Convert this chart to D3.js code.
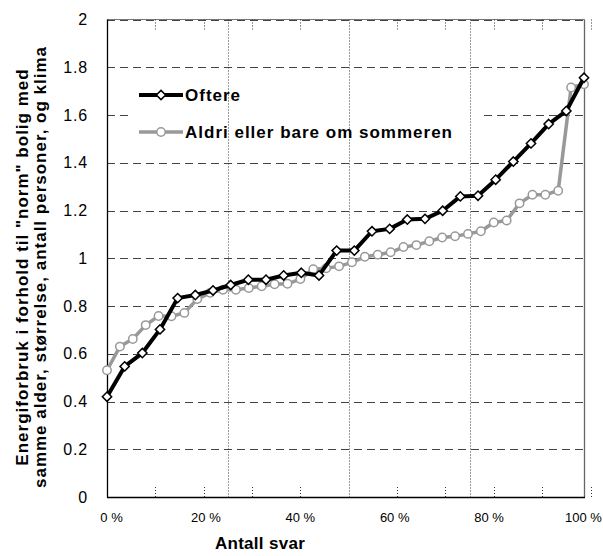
<!DOCTYPE html>
<html>
<head>
<meta charset="utf-8">
<script src="https://cdn.jsdelivr.net/npm/d3@7"></script>
<style>
  html, body { margin: 0; padding: 0; background: #fff; }
  svg { display: block; font-family: Arial, "Liberation Sans", sans-serif; }
</style>
</head>
<body>
<svg id="chart" width="603" height="556"></svg>
<script>
// ---- data ----
const xTickLabels = ["0 %", "20 %", "40 %", "60 %", "80 %", "100 %"];
const xTickValues = [0, 20, 40, 60, 80, 100];
const yTickValues = [0, 0.2, 0.4, 0.6, 0.8, 1, 1.2, 1.4, 1.6, 1.8, 2];
const yTickLabels = ["0", "0.2", "0.4", "0.6", "0.8", "1", "1.2", "1.4", "1.6", "1.8", "2"];
const minorTickValues = [10, 20, 30, 40, 60, 70, 80, 90, 100];
const quartileLines = [25, 50, 75];

const seriesNames = ["Oftere", "Aldri eller bare om sommeren"];
const oftere = [0.42, 0.547, 0.603, 0.702, 0.833, 0.846, 0.865, 0.888, 0.91, 0.91,
  0.928, 0.939, 0.928, 1.032, 1.032, 1.113, 1.123, 1.162, 1.165, 1.199,
  1.259, 1.262, 1.329, 1.405, 1.481, 1.562, 1.617, 1.756];
const aldri = [0.531, 0.63, 0.662, 0.72, 0.758, 0.757, 0.771, 0.829, 0.855, 0.868,
  0.868, 0.875, 0.883, 0.891, 0.893, 0.913, 0.954, 0.958, 0.966, 0.983,
  1.006, 1.015, 1.025, 1.047, 1.055, 1.071, 1.087, 1.092, 1.102, 1.113,
  1.15, 1.158, 1.23, 1.266, 1.266, 1.283, 1.715, 1.729];

const yTitle1 = "Energiforbruk i forhold til \"norm\" bolig med";
const yTitle2 = "samme alder, størrelse, antall personer, og klima";
const xTitle = "Antall svar";

// ---- layout ----
const L = 107, R = 584, T = 19.5, B = 497;
const svg = d3.select("#chart");

const y = d3.scaleLinear().domain([0, 2]).range([B, T]);
const xLabel = d3.scaleLinear().domain([0, 100]).range([111.5, 583.5]);
const xGrid = d3.scaleLinear().domain([0, 100]).range([L, 590.5]);
const xO = d3.scalePoint().domain(d3.range(oftere.length)).range([L, R]);
const xA = d3.scalePoint().domain(d3.range(aldri.length)).range([L, R]);

// horizontal dashed gridlines
svg.append("g").selectAll("line").data(yTickValues.filter(v => v > 0)).join("line")
  .attr("x1", L).attr("x2", R)
  .attr("y1", d => Math.round(y(d)) + 0.5).attr("y2", d => Math.round(y(d)) + 0.5)
  .attr("stroke", "#444").attr("stroke-width", 1).attr("stroke-dasharray", "8,5");

// legend box (white, hides gridlines)
svg.append("rect").attr("x", 132).attr("y", 76).attr("width", 351).attr("height", 76)
  .attr("fill", "#fff");

// frame
svg.append("line").attr("x1", L).attr("x2", R + 0.5).attr("y1", 19.5).attr("y2", 19.5)
  .attr("stroke", "#777").attr("stroke-width", 1);
svg.append("line").attr("x1", R + 0.5).attr("x2", R + 0.5).attr("y1", 19.5).attr("y2", B)
  .attr("stroke", "#666").attr("stroke-width", 1.3);

// quartile dotted vertical lines
svg.append("g").selectAll("line").data(quartileLines).join("line")
  .attr("x1", d => Math.round(xGrid(d)) + 0.5).attr("x2", d => Math.round(xGrid(d)) + 0.5)
  .attr("y1", T).attr("y2", B)
  .attr("stroke", "#333").attr("stroke-width", 1).attr("stroke-dasharray", "1,2");

// minor dotted ticks top and bottom
const mt = svg.append("g");
mt.selectAll("line.b").data(minorTickValues).join("line").attr("class", "b")
  .attr("x1", d => Math.round(xGrid(d)) + 0.5).attr("x2", d => Math.round(xGrid(d)) + 0.5)
  .attr("y1", B - 10).attr("y2", B)
  .attr("stroke", "#333").attr("stroke-width", 1).attr("stroke-dasharray", "1,2");
mt.selectAll("line.t").data(minorTickValues).join("line").attr("class", "t")
  .attr("x1", d => Math.round(xGrid(d)) + 0.5).attr("x2", d => Math.round(xGrid(d)) + 0.5)
  .attr("y1", T).attr("y2", T + 10)
  .attr("stroke", "#333").attr("stroke-width", 1).attr("stroke-dasharray", "1,2");

// axes lines
svg.append("line").attr("x1", L + 0.5).attr("x2", L + 0.5).attr("y1", T).attr("y2", B + 0.5)
  .attr("stroke", "#000").attr("stroke-width", 1.3);
svg.append("line").attr("x1", L).attr("x2", R + 1).attr("y1", B + 0.5).attr("y2", B + 0.5)
  .attr("stroke", "#000").attr("stroke-width", 1.3);

// y tick labels
svg.append("g").selectAll("text").data(yTickValues).join("text")
  .attr("x", 88).attr("y", d => y(d)).attr("dy", "0.35em")
  .attr("text-anchor", "end").attr("font-size", 16).attr("letter-spacing", "0.8px")
  .text((d, i) => yTickLabels[i]);

// x tick labels
svg.append("g").selectAll("text").data(xTickValues).join("text")
  .attr("x", d => xLabel(d)).attr("y", 522)
  .attr("text-anchor", "middle").attr("font-size", 13)
  .text((d, i) => xTickLabels[i]);

// titles
svg.append("text").attr("x", 260).attr("y", 549).attr("text-anchor", "middle")
  .attr("font-size", 17).attr("font-weight", "bold").attr("letter-spacing", "0.3px").text(xTitle);
svg.append("text").attr("transform", "translate(28,267) rotate(-90)").attr("text-anchor", "middle")
  .attr("font-size", 17).attr("font-weight", "bold").attr("letter-spacing", "1px").text(yTitle1);
svg.append("text").attr("transform", "translate(46,267) rotate(-90)").attr("text-anchor", "middle")
  .attr("font-size", 17).attr("font-weight", "bold").attr("letter-spacing", "1px").text(yTitle2);

// series
const diamond = d3.symbol().type(d3.symbolDiamond2).size(55);
function drawSeries(values, xs, color, width, marker) {
  const g = svg.append("g");
  g.append("path").datum(values)
    .attr("d", d3.line().x((d, i) => xs(i)).y(d => y(d)))
    .attr("fill", "none").attr("stroke", color).attr("stroke-width", width)
    .attr("stroke-linejoin", "round");
  if (marker === "diamond") {
    g.selectAll("path.m").data(values).join("path").attr("class", "m")
      .attr("d", diamond)
      .attr("transform", (d, i) => `translate(${xs(i)},${y(d)})`)
      .attr("fill", "#fff").attr("stroke", color).attr("stroke-width", 1.5);
  } else {
    g.selectAll("circle").data(values).join("circle")
      .attr("cx", (d, i) => xs(i)).attr("cy", d => y(d)).attr("r", 4.2)
      .attr("fill", "#fff").attr("stroke", color).attr("stroke-width", 1.5);
  }
}
drawSeries(aldri, xA, "#999", 3.5, "circle");
drawSeries(oftere, xO, "#000", 4, "diamond");

// legend
const leg = svg.append("g");
const legendItems = [
  { name: seriesNames[0], color: "#000", w: 4, marker: "diamond", y: 95 },
  { name: seriesNames[1], color: "#999", w: 3.5, marker: "circle", y: 132 }
];
legendItems.forEach(it => {
  leg.append("line").attr("x1", 139).attr("x2", 183).attr("y1", it.y).attr("y2", it.y)
    .attr("stroke", it.color).attr("stroke-width", it.w);
  if (it.marker === "diamond") {
    leg.append("path").attr("d", diamond).attr("transform", `translate(161,${it.y})`)
      .attr("fill", "#fff").attr("stroke", it.color).attr("stroke-width", 1.5);
  } else {
    leg.append("circle").attr("cx", 161).attr("cy", it.y).attr("r", 4.2)
      .attr("fill", "#fff").attr("stroke", it.color).attr("stroke-width", 1.5);
  }
  leg.append("text").attr("x", 185).attr("y", it.y).attr("dy", "0.36em")
    .attr("font-size", 17).attr("font-weight", "bold").attr("letter-spacing", "1px")
    .text(it.name);
});
</script>
</body>
</html>
